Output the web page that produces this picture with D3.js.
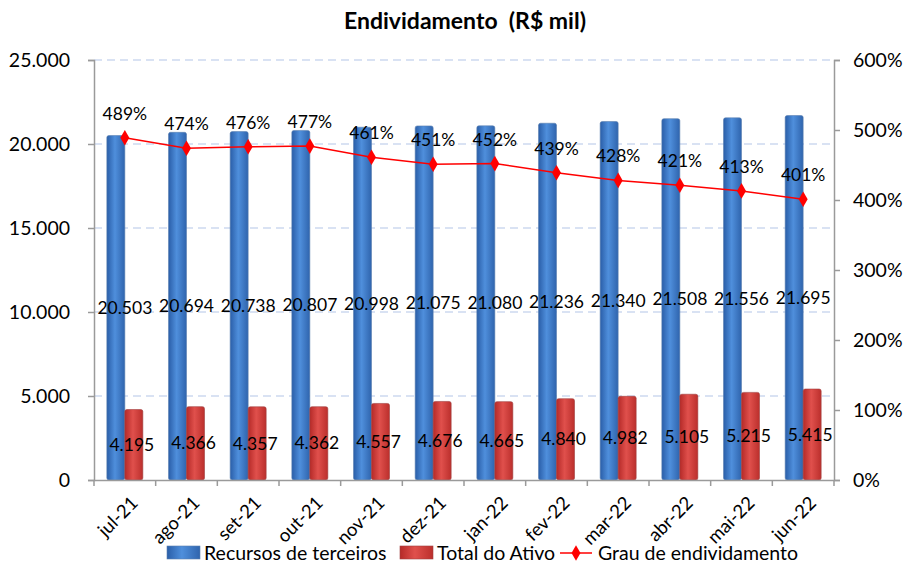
<!DOCTYPE html>
<html>
<head>
<meta charset="utf-8">
<script src="https://cdn.jsdelivr.net/npm/d3@7"></script>
<style>
body{margin:0;background:#fff;}
text{font-family:Lato,"Open Sans",sans-serif;}
</style>
</head>
<body>
<svg id="chart" width="903" height="563"></svg>
<script>
var months = ["jul-21","ago-21","set-21","out-21","nov-21","dez-21","jan-22","fev-22","mar-22","abr-22","mai-22","jun-22"];
var recursos = [20503,20694,20738,20807,20998,21075,21080,21236,21340,21508,21556,21695];
var ativo = [4195,4366,4357,4362,4557,4676,4665,4840,4982,5105,5215,5415];
var grau = [489,474,476,477,461,451,452,439,428,421,413,401];
var leftTicks = [0,5000,10000,15000,20000,25000];
var rightTicks = [0,100,200,300,400,500,600];

var svg = d3.select("#chart");
var margin = {top: 60, right: 69, bottom: 83, left: 94};
var width = 903 - margin.left - margin.right;
var height = 563 - margin.top - margin.bottom;
var g = svg.append("g").attr("transform", "translate(" + margin.left + "," + margin.top + ")");

var fmt = function(v){ return d3.format(",")(v).replace(/,/g, "."); };

var x = d3.scaleBand().domain(months).range([0, width]);
var y = d3.scaleLinear().domain([0, 25000]).range([height, 0]);
var y2 = d3.scaleLinear().domain([0, 600]).range([height, 0]);

// gradients for the cylinder look
var defs = svg.append("defs");
function grad(id, dark, mid, light){
  var gr = defs.append("linearGradient").attr("id", id).attr("x1","0").attr("x2","1").attr("y1","0").attr("y2","0");
  gr.append("stop").attr("offset","0%").attr("stop-color", dark);
  gr.append("stop").attr("offset","45%").attr("stop-color", light);
  gr.append("stop").attr("offset","100%").attr("stop-color", mid);
}
grad("gBlue", "#2a5ea8", "#2f64ad", "#4f8fdc");
grad("gRed", "#b52a28", "#bb2f2c", "#e0504c");

// gridlines
g.append("g").selectAll("line")
  .data(leftTicks.filter(function(d){ return d > 0; }))
  .enter().append("line")
  .attr("x1", 0).attr("x2", width)
  .attr("y1", function(d){ return y(d); }).attr("y2", function(d){ return y(d); })
  .attr("stroke", "#b4c6e7").attr("stroke-width", 1.2).attr("stroke-dasharray", "8,5");

var bw = 18;
var groups = g.append("g").selectAll("g")
  .data(months)
  .enter().append("g")
  .attr("transform", function(d){ return "translate(" + (x(d) + x.bandwidth()/2) + ",0)"; });

groups.append("rect")
  .attr("x", -bw)
  .attr("y", function(d, i){ return y(recursos[i]); })
  .attr("width", bw)
  .attr("height", function(d, i){ return height - y(recursos[i]); })
  .attr("rx", 2)
  .attr("fill", "url(#gBlue)")
  .attr("stroke", "#5a7fb0").attr("stroke-width", 0.6);

groups.append("rect")
  .attr("x", 0)
  .attr("y", function(d, i){ return y(ativo[i]); })
  .attr("width", bw)
  .attr("height", function(d, i){ return height - y(ativo[i]); })
  .attr("rx", 2)
  .attr("fill", "url(#gRed)")
  .attr("stroke", "#a04040").attr("stroke-width", 0.6);

// value labels
groups.append("text")
  .attr("x", 0)
  .attr("y", function(d, i){ return y(recursos[i] / 2); })
  .attr("dy", "0.35em")
  .attr("text-anchor", "middle")
  .attr("font-size", 17.5)
  .attr("fill", "#000")
  .text(function(d, i){ return fmt(recursos[i]); });

groups.append("text")
  .attr("x", 7)
  .attr("y", function(d, i){ return y(ativo[i] / 2); })
  .attr("dy", "0.35em")
  .attr("text-anchor", "middle")
  .attr("font-size", 17.5)
  .attr("fill", "#000")
  .text(function(d, i){ return fmt(ativo[i]); });

// line
var line = d3.line()
  .x(function(d, i){ return x(months[i]) + x.bandwidth()/2; })
  .y(function(d){ return y2(d); });

g.append("path")
  .datum(grau)
  .attr("d", line)
  .attr("fill", "none")
  .attr("stroke", "#ff0000")
  .attr("stroke-width", 1.5);

g.append("g").selectAll("path")
  .data(grau)
  .enter().append("path")
  .attr("d", d3.symbol().type(d3.symbolDiamond).size(70))
  .attr("transform", function(d, i){ return "translate(" + (x(months[i]) + x.bandwidth()/2) + "," + y2(d) + ")"; })
  .attr("fill", "#ff0000");

g.append("g").selectAll("text")
  .data(grau)
  .enter().append("text")
  .attr("x", function(d, i){ return x(months[i]) + x.bandwidth()/2; })
  .attr("y", function(d){ return y2(d) - 18; })
  .attr("text-anchor", "middle")
  .attr("font-size", 17.5)
  .attr("fill", "#000")
  .text(function(d){ return d + "%"; });

// axes
var axisColor = "#9a9a9a";
var yAxis = g.append("g")
  .call(d3.axisLeft(y).tickValues(leftTicks).tickFormat(fmt).tickSize(6).tickPadding(18));
var y2Axis = g.append("g")
  .attr("transform", "translate(" + width + ",0)")
  .call(d3.axisRight(y2).tickValues(rightTicks).tickFormat(function(d){ return d + "%"; }).tickSize(6).tickPadding(13));
var xAxis = g.append("g")
  .attr("transform", "translate(0," + height + ")")
  .call(d3.axisBottom(x).tickSize(0).tickPadding(8));

[yAxis, y2Axis, xAxis].forEach(function(a){
  a.select(".domain").attr("stroke", axisColor).attr("stroke-width", 1.5);
  a.selectAll(".tick line").attr("stroke", axisColor).attr("stroke-width", 1.5);
  a.selectAll("text").attr("font-size", 19.5).attr("fill", "#000").attr("font-family", "Lato,'Open Sans',sans-serif");
});

// category boundary ticks
xAxis.append("g").selectAll("line")
  .data(d3.range(months.length + 1))
  .enter().append("line")
  .attr("x1", function(i){ return i * x.step(); })
  .attr("x2", function(i){ return i * x.step(); })
  .attr("y1", 0).attr("y2", 6)
  .attr("stroke", axisColor).attr("stroke-width", 1.5);

xAxis.selectAll(".tick text")
  .attr("font-size", 18.5)
  .attr("text-anchor", "end")
  .attr("dy", "0.35em")
  .attr("transform", "translate(4,14) rotate(-45)");

// title
svg.append("text")
  .attr("x", 465)
  .attr("y", 29)
  .attr("text-anchor", "middle")
  .attr("font-size", 23)
  .attr("font-weight", "bold")
  .attr("fill", "#000")
  .style("white-space", "pre")
  .text("Endividamento  (R$ mil)");

// legend
var legend = svg.append("g").attr("transform", "translate(0,553)");
legend.append("rect").attr("x", 167).attr("y", -7).attr("width", 33).attr("height", 13).attr("fill", "url(#gBlue)").attr("stroke", "#5a7fb0").attr("stroke-width", 0.6);
legend.append("text").attr("x", 204).attr("y", 0).attr("dy", "0.35em").attr("font-size", 19.5).text("Recursos de terceiros");
legend.append("rect").attr("x", 400).attr("y", -7).attr("width", 33).attr("height", 13).attr("fill", "url(#gRed)").attr("stroke", "#a04040").attr("stroke-width", 0.6);
legend.append("text").attr("x", 437).attr("y", 0).attr("dy", "0.35em").attr("font-size", 19.5).text("Total do Ativo");
legend.append("line").attr("x1", 560).attr("x2", 592).attr("y1", 0).attr("y2", 0).attr("stroke", "#ff0000").attr("stroke-width", 1.5);
legend.append("path").attr("d", d3.symbol().type(d3.symbolDiamond).size(70)).attr("transform", "translate(576,0)").attr("fill", "#ff0000");
legend.append("text").attr("x", 598).attr("y", 0).attr("dy", "0.35em").attr("font-size", 19.5).text("Grau de endividamento");
</script>
</body>
</html>
